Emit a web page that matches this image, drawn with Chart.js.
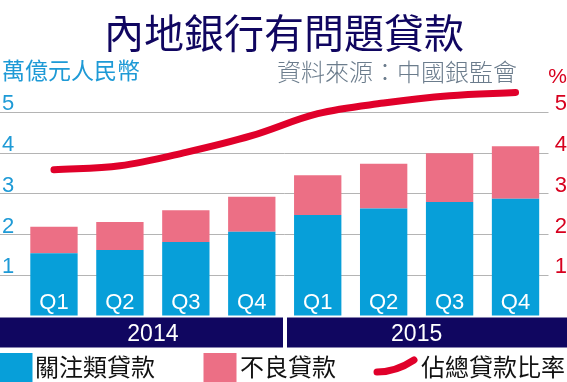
<!DOCTYPE html>
<html>
<head>
<meta charset="utf-8">
<script src="https://cdn.jsdelivr.net/npm/chart.js@4.4.1/dist/chart.umd.min.js"></script>
<style>
  html, body { margin: 0; padding: 0; background: #fff; }
  canvas { display: block; }
</style>
</head>
<body>
<canvas id="loanChart" width="567" height="382"></canvas>
<script>
// data (trillion RMB / %)
const quarters = ['Q1', 'Q2', 'Q3', 'Q4', 'Q1', 'Q2', 'Q3', 'Q4'];
const years = ['2014', '2015'];
const specialMention = [1.54, 1.62, 1.82, 2.07, 2.48, 2.64, 2.80, 2.88];
const nonPerforming = [0.65, 0.69, 0.78, 0.86, 0.98, 1.10, 1.20, 1.29];
const loanRatio = [3.59, 3.69, 4.02, 4.43, 4.97, 5.23, 5.41, 5.49];
const axisTicks = [1, 2, 3, 4, 5];

const BLUE = '#079fd9';
const PINK = '#ec6f85';
const RED = '#e0002a';
const NAVY = '#100660';
const CJK = '"Noto Sans CJK TC", "Noto Sans CJK SC", sans-serif';
const LATIN = '"Liberation Sans", Arial, sans-serif';

const decorations = {
    id: 'decorations',
    beforeDraw(chart) {
        const ctx = chart.ctx;
        ctx.save();
        ctx.fillStyle = '#fff';
        ctx.fillRect(0, 0, chart.width, chart.height);
        ctx.restore();
    },
    afterDraw(chart) {
        const ctx = chart.ctx;
        const x = chart.scales.x;
        const y = chart.scales.y;
        const y1 = chart.scales.y1;
        ctx.save();

        // title
        ctx.fillStyle = NAVY;
        ctx.font = '40px ' + CJK;
        ctx.textAlign = 'center';
        ctx.textBaseline = 'middle';
        ctx.fillText('內地銀行有問題貸款', 284, 33);

        // unit / source / percent
        ctx.textAlign = 'left';
        ctx.font = '23px ' + CJK;
        ctx.fillStyle = '#1e9ad6';
        ctx.fillText('萬億元人民幣', 2, 70);
        ctx.font = '300 24px ' + CJK;
        ctx.fillStyle = '#6b7c8c';
        ctx.fillText('資料來源：中國銀監會', 277, 72);
        ctx.textAlign = 'right';
        ctx.font = '21px ' + LATIN;
        ctx.fillStyle = '#d7001e';
        ctx.fillText('%', 567, 77);

        // axis numbers sit just above the grid lines
        ctx.font = '22px ' + LATIN;
        ctx.textBaseline = 'alphabetic';
        axisTicks.forEach(v => {
            ctx.textAlign = 'left';
            ctx.fillStyle = '#1e9ad6';
            ctx.fillText(String(v), 2, y.getPixelForValue(v) - 2);
            ctx.textAlign = 'right';
            ctx.fillStyle = '#d7001e';
            ctx.fillText(String(v), 567, y1.getPixelForValue(v) - 2);
        });

        // quarter labels inside bars
        ctx.textAlign = 'center';
        ctx.fillStyle = '#fff';
        ctx.font = '22px ' + LATIN;
        quarters.forEach((q, i) => {
            ctx.fillText(q, x.getPixelForValue(i), 309);
        });

        // year band
        const bandTop = 317.5, bandH = 30;
        ctx.fillStyle = NAVY;
        ctx.fillRect(0, bandTop, 283, bandH);
        ctx.fillRect(287, bandTop, 280, bandH);
        ctx.fillStyle = '#fff';
        ctx.font = '23px ' + LATIN;
        years.forEach((yr, k) => {
            const cx = (x.getPixelForValue(k * 4) + x.getPixelForValue(k * 4 + 3)) / 2;
            ctx.fillText(yr, cx, 341);
        });

        // legend
        ctx.textAlign = 'left';
        ctx.textBaseline = 'middle';
        ctx.font = '24px ' + CJK;
        ctx.fillStyle = BLUE;
        ctx.fillRect(0, 353, 32.5, 29);
        ctx.fillStyle = PINK;
        ctx.fillRect(203.5, 353, 33, 29);
        ctx.fillStyle = '#111';
        ctx.fillText('關注類貸款', 35, 367);
        ctx.fillText('不良貸款', 240, 367);
        ctx.fillText('佔總貸款比率', 421, 367);
        ctx.strokeStyle = RED;
        ctx.lineWidth = 7;
        ctx.lineCap = 'round';
        ctx.beginPath();
        ctx.moveTo(377, 372);
        ctx.quadraticCurveTo(396, 372, 414, 360);
        ctx.stroke();

        ctx.restore();
    }
};

new Chart(document.getElementById('loanChart'), {
    type: 'bar',
    data: {
        labels: quarters,
        datasets: [
            { label: '佔總貸款比率', type: 'line', data: loanRatio, yAxisID: 'y1', order: 0,
              borderColor: RED, borderWidth: 7, borderCapStyle: 'round', tension: 0.35,
              pointRadius: 0, fill: false, clip: false },
            { label: '關注類貸款', data: specialMention, backgroundColor: BLUE, order: 1 },
            { label: '不良貸款', data: nonPerforming, backgroundColor: PINK, order: 1 }
        ]
    },
    options: {
        responsive: false,
        animation: false,
        events: [],
        layout: { padding: { top: 88, bottom: 66, left: 0, right: 18.5 } },
        datasets: { bar: { barPercentage: 0.718, categoryPercentage: 1 } },
        plugins: { legend: { display: false }, tooltip: { enabled: false } },
        scales: {
            x: { stacked: true, display: false },
            y: {
                stacked: true, min: 0, max: 5.6,
                border: { display: false },
                ticks: { display: false, stepSize: 1 },
                grid: {
                    tickLength: 21,
                    lineWidth: 1,
                    color: c => axisTicks.includes(c.tick.value) ? '#b4b4b4' : 'rgba(0,0,0,0)'
                }
            },
            y1: { min: 0, max: 5.6, display: false }
        }
    },
    plugins: [decorations]
});
</script>
</body>
</html>
